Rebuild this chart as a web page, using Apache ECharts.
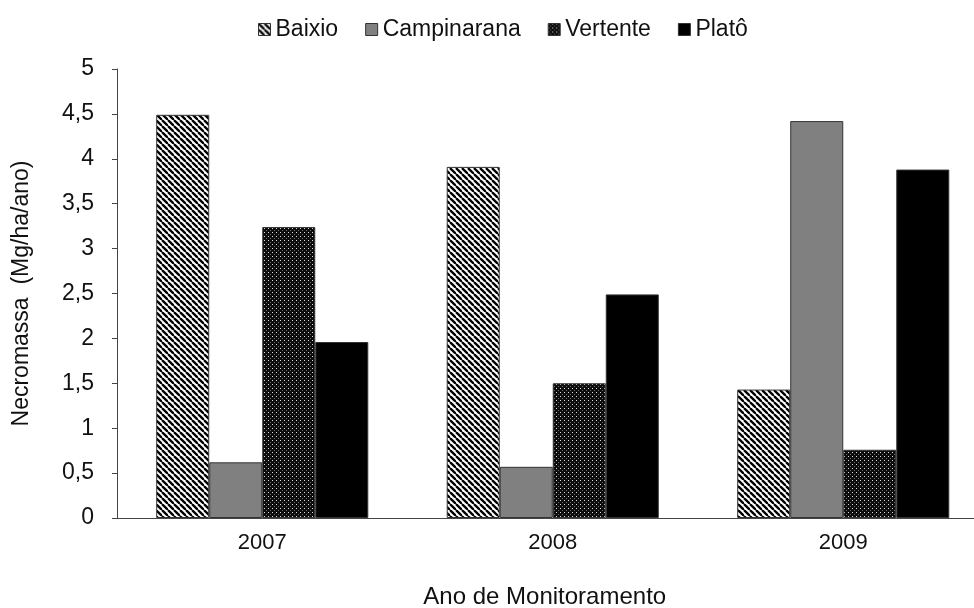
<!DOCTYPE html>
<html><head><meta charset="utf-8">
<script src="https://cdn.jsdelivr.net/npm/echarts@6/dist/echarts.min.js"></script>
<style>html,body{margin:0;padding:0;background:#fff;overflow:hidden}#c{width:974px;height:608px}</style>
</head><body><div id="c"></div>
<script>
var categories = ['2007', '2008', '2009'];
var seriesNames = ['Baixio', 'Campinarana', 'Vertente', 'Platô'];
var baixio = [4.49, 3.91, 1.43];
var campinarana = [0.62, 0.57, 4.42];
var vertente = [3.24, 1.50, 0.76];
var plato = [1.96, 2.49, 3.88];
var yTicks = ['0', '0,5', '1', '1,5', '2', '2,5', '3', '3,5', '4', '4,5', '5'];

function stripePattern() {
  var s = 6;
  var c = document.createElement('canvas');
  c.width = s; c.height = s;
  var g = c.getContext('2d');
  g.fillStyle = '#fff'; g.fillRect(0, 0, s, s);
  g.strokeStyle = '#000'; g.lineWidth = 2.3;
  for (var k = -s; k <= 2 * s; k += s) {
    g.beginPath(); g.moveTo(k, 0); g.lineTo(k + s, s); g.stroke();
  }
  return c;
}
function dotPattern() {
  var c = document.createElement('canvas');
  c.width = 4; c.height = 4;
  var g = c.getContext('2d');
  g.fillStyle = '#0d0d0d'; g.fillRect(0, 0, 4, 4);
  g.fillStyle = '#e0e0e0'; g.fillRect(0, 0, 1, 1);
  g.fillStyle = '#6a6a6a'; g.fillRect(2, 2, 1, 1);
  return c;
}
var stripe = { image: stripePattern(), repeat: 'repeat' };
var dots = { image: dotPattern(), repeat: 'repeat' };

var font = 'Liberation Sans, Arial, sans-serif';
var chart = echarts.init(document.getElementById('c'));
var colors = [stripe, '#808080', dots, '#000'];
var datas = [baixio, campinarana, vertente, plato];
chart.setOption({
  animation: false,
  backgroundColor: '#fff',
  legend: {
    top: 13, left: 253,
    itemWidth: 12, itemHeight: 12, itemGap: 27,
    textStyle: { fontFamily: font, fontSize: 23, color: '#111' },
    data: seriesNames.map(function (n, i) {
      return { name: n, icon: 'rect', itemStyle: { color: colors[i], borderColor: '#333', borderWidth: 1 } };
    })
  },
  grid: { left: 117, right: -14.5, top: 69, bottom: 90, containLabel: false, outerBoundsMode: 'none' },
  xAxis: {
    type: 'category', data: categories,
    axisLine: { lineStyle: { color: '#444', width: 1 } },
    axisTick: { show: false },
    axisLabel: { fontFamily: font, fontSize: 22, color: '#111', margin: 14 },
    name: 'Ano de Monitoramento', nameLocation: 'middle', nameGap: 67,
    nameTextStyle: { fontFamily: font, fontSize: 24, color: '#111', padding: [0, 16, 0, 0] }
  },
  yAxis: {
    type: 'value', min: 0, max: 5, interval: 0.5,
    axisLine: { show: true, lineStyle: { color: '#444', width: 1 } },
    axisTick: { show: true, inside: false, length: 5, lineStyle: { color: '#444' } },
    splitLine: { show: false },
    axisLabel: {
      fontFamily: font, fontSize: 23, color: '#111', margin: 23,
      formatter: function (v) { return yTicks[Math.round(v * 2)]; }
    },
    name: 'Necromassa  (Mg/ha/ano)', nameLocation: 'middle', nameGap: 84,
    nameTextStyle: { fontFamily: font, fontSize: 23, color: '#111' }
  },
  series: seriesNames.map(function (n, i) {
    return {
      name: n, type: 'bar', data: datas[i],
      barGap: '0%', barCategoryGap: '27%',
      itemStyle: { color: colors[i], borderColor: '#333', borderWidth: 1 }
    };
  })
});
</script>
</body></html>
